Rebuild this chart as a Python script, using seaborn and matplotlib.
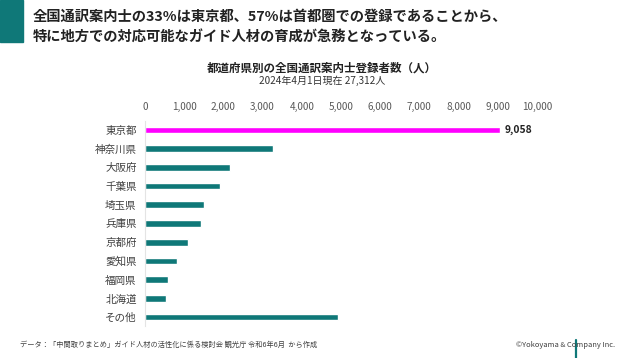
import matplotlib
matplotlib.use("Agg")
import matplotlib.pyplot as plt
import seaborn as sns
import pandas as pd

# data
prefs = ["東京都", "神奈川県", "大阪府", "千葉県", "埼玉県", "兵庫県",
         "京都府", "愛知県", "福岡県", "北海道", "その他"]
counts = [9058, 3273, 2168, 1905, 1505, 1420, 1105, 816, 595, 536, 4931]
xticks = list(range(0, 10001, 1000))

TEAL = "#0f7878"
PINK = "#ff00ff"
colors = [PINK] + [TEAL] * (len(prefs) - 1)

sns.set_theme(style="white")
plt.rcParams["font.family"] = ["Noto Sans CJK JP", "DejaVu Sans"]

df = pd.DataFrame({"pref": prefs, "count": counts})

fig = plt.figure(figsize=(6.2, 3.58), dpi=100)
fig.patch.set_facecolor("white")
ax = fig.add_axes([145/620, 1 - 326.4/358, (537 - 145)/620, (326.4 - 120.6)/358])

sns.barplot(data=df, y="pref", x="count", hue="pref", palette=colors,
            legend=False, ax=ax, width=0.36, saturation=1, orient="h")

ax.set_xlim(0, 10000)
ax.set_xticks(xticks)
ax.set_xticklabels([f"{v:,}" for v in xticks])
ax.xaxis.tick_top()
ax.tick_params(axis="x", length=0, pad=6.5, labelsize=7.2, labelcolor="#595959")
ax.tick_params(axis="y", length=0, pad=6, labelsize=7.6, labelcolor="#404040")
ax.set_xlabel(""); ax.set_ylabel("")
for s in ["top", "right", "bottom"]:
    ax.spines[s].set_visible(False)
ax.spines["left"].set_color("#e4e4e4")
ax.spines["left"].set_linewidth(0.8)

# value label on the top bar
ax.text(counts[0] + 120, 0, f"{counts[0]:,}", va="center", ha="left",
        fontsize=7.4, fontweight="bold", color="#222222")

# headline block
fig.patches.append(plt.Rectangle((0, 1 - 42/358), 23/620, 42/358,
                                 transform=fig.transFigure, color=TEAL, zorder=0))
fig.text(33/620, 1 - 17/358, "全国通訳案内士の33%は東京都、57%は首都圏での登録であることから、",
         fontsize=10.3, fontweight="bold", va="center", color="#222222")
fig.text(33/620, 1 - 38/358, "特に地方での対応可能なガイド人材の育成が急務となっている。",
         fontsize=10.3, fontweight="bold", va="center", color="#222222")

# chart title
fig.text(322/620, 1 - 68/358, "都道府県別の全国通訳案内士登録者数（人）",
         fontsize=8.3, fontweight="bold", ha="center", va="center", color="#222222")
fig.text(322/620, 1 - 81/358, "2024年4月1日現在 27,312人",
         fontsize=7.2, ha="center", va="center", color="#333333")

# footer
fig.text(20/620, 1 - 345/358,
         "データ：「中間取りまとめ」ガイド人材の活性化に係る検討会 観光庁 令和6年6月  から作成",
         fontsize=5.2, va="center", color="#404040")
fig.text(615/620, 1 - 345/358, "©Yokoyama & Company Inc.",
         fontsize=5.4, ha="right", va="center", color="#404040")
fig.lines.append(plt.Line2D([576/620, 576/620], [0, 1 - 340/358],
                            transform=fig.transFigure, color=TEAL, lw=1.6))

fig.savefig("out.png", dpi=100, facecolor="white")
